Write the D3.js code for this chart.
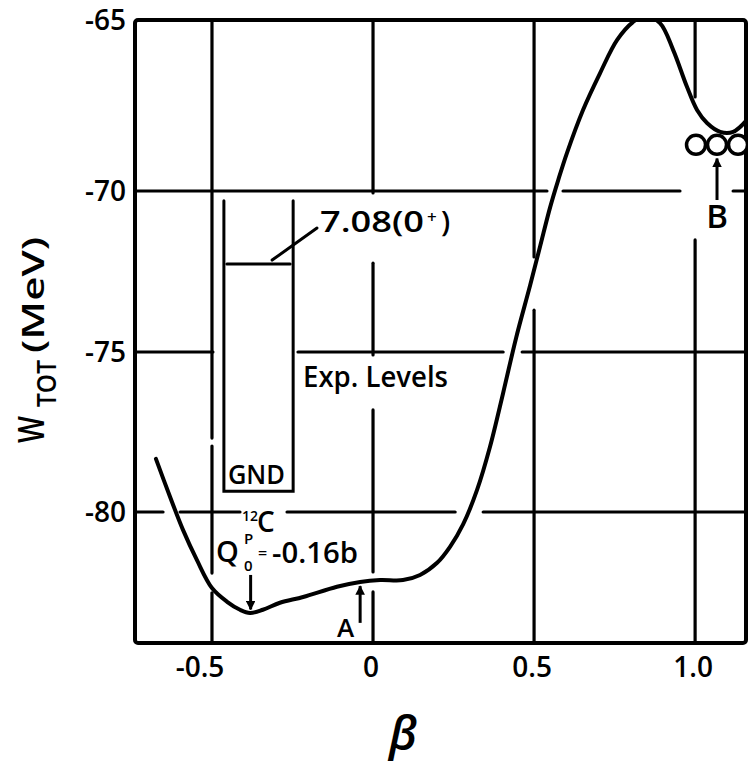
<!DOCTYPE html>
<html>
<head>
<meta charset="utf-8">
<script src="https://cdn.jsdelivr.net/npm/d3@7"></script>
<style>
  body { margin: 0; background: #fff; }
  svg { display: block; }
  text { font-family: "Open Sans", sans-serif; font-weight: 600; fill: #000; }
</style>
</head>
<body>
<svg id="chart" width="750" height="763"></svg>
<script>
// Total energy W_TOT of 12C as a function of the deformation parameter beta
const curveBeta = [-0.674,-0.630,-0.590,-0.547,-0.500,-0.453,-0.413,-0.382,-0.342,-0.289,-0.217,-0.112,-0.040,0.022,0.093,0.146,0.199,0.239,0.280,0.323,0.363,0.404,0.444,0.488,0.519,0.550,0.575,0.602,0.652,0.705,0.758,0.807,0.845,0.891,0.932,0.975,1.006,1.037,1.078,1.118,1.161];
const curveW    = [-78.34,-79.53,-80.56,-81.50,-82.38,-82.81,-83.06,-83.16,-83.06,-82.84,-82.66,-82.34,-82.19,-82.13,-82.13,-81.97,-81.59,-81.09,-80.38,-79.31,-77.97,-76.28,-74.57,-72.92,-71.71,-70.50,-69.68,-68.89,-67.63,-66.55,-65.58,-65.06,-64.88,-65.09,-65.88,-66.96,-67.63,-68.01,-68.27,-68.27,-67.92];

const xTicks = [-0.5, 0, 0.5, 1.0];
const xTickLabels = ["-0.5", "0", "0.5", "1.0"];
const yTicks = [-65, -70, -75, -80];
const yTickLabels = ["-65", "-70", "-75", "-80"];

// experimental levels of 12C
const groundW = -79.35;
const excitation = 7.08;

// marked configurations
const minimumBeta = -0.38;   // oblate minimum, Q0p = -0.16 b
const pointABeta = -0.04;    // spherical point A
const pointBBeta = 1.068;    // linear alpha chain B

const svg = d3.select("#chart");

const x = d3.scaleLinear().domain([-0.739, 1.158]).range([135, 746]);
const y = d3.scaleLinear().domain([-84.1, -80, -75, -70, -65]).range([643, 512, 352, 191, 20]);

const [bMin, bMax] = x.domain();
const wMin = -84.1, wMax = -65;

// grid lines, drawn in pieces so labels and the curve sit in clear gaps
const vGrid = [
  { v: -0.5, parts: [[-77.69, wMax], [-81.91, -77.94], [wMin, -82.53]] },
  { v: 0,    parts: [[-70.06, wMax], [-75.09, -72.24], [-81.875, -76.81], [wMin, -82.5]] },
  { v: 0.5,  parts: [[-72.05, wMax], [wMin, -73.70]] },
  { v: 1.0,  parts: [[-67.25, wMax], [wMin, -71.52]] }
];
const hGrid = [
  { v: -70, parts: [[bMin, 0.540], [0.590, 0.953], [1.118, bMax]] },
  { v: -75, parts: [[bMin, -0.497], [-0.233, 0.404], [0.463, bMax]] },
  { v: -80, parts: [[bMin, -0.652], [-0.599, -0.413], [-0.267, 0.255], [0.342, bMax]] }
];

const grid = svg.append("g").attr("stroke", "#000").attr("stroke-width", 3.2).attr("stroke-linecap", "round");
vGrid.forEach(g => g.parts.forEach(p => {
  grid.append("line").attr("x1", x(g.v)).attr("x2", x(g.v)).attr("y1", y(p[0])).attr("y2", y(p[1]));
}));
hGrid.forEach(g => g.parts.forEach(p => {
  grid.append("line").attr("y1", y(g.v)).attr("y2", y(g.v)).attr("x1", x(p[0])).attr("x2", x(p[1]));
}));

// frame
svg.append("rect")
  .attr("x", x(bMin)).attr("y", y(wMax))
  .attr("width", x(bMax) - x(bMin)).attr("height", y(wMin) - y(wMax))
  .attr("rx", 3)
  .attr("fill", "none").attr("stroke", "#000").attr("stroke-width", 4);

// clip for the curve
svg.append("clipPath").attr("id", "plotClip")
  .append("rect").attr("x", x(bMin)).attr("y", y(wMax))
  .attr("width", x(bMax) - x(bMin)).attr("height", y(wMin) - y(wMax));

const pts = curveBeta.map((b, i) => [b, curveW[i]]);
const line = d3.line().x(d => x(d[0])).y(d => y(d[1])).curve(d3.curveCatmullRom.alpha(0.5));
svg.append("path").datum(pts)
  .attr("clip-path", "url(#plotClip)")
  .attr("d", line)
  .attr("fill", "none").attr("stroke", "#000").attr("stroke-width", 4).attr("stroke-linecap", "round");

// arrow heads
const defs = svg.append("defs");
defs.append("marker").attr("id", "head")
  .attr("viewBox", "0 0 10 10").attr("refX", 9).attr("refY", 5)
  .attr("markerWidth", 3.2).attr("markerHeight", 3.2).attr("markerUnits", "strokeWidth")
  .attr("orient", "auto")
  .append("path").attr("d", "M0,0 L10,5 L0,10 Z").attr("fill", "#000");

function arrow(b, wFrom, wTo) {
  svg.append("line")
    .attr("x1", x(b)).attr("x2", x(b)).attr("y1", y(wFrom)).attr("y2", y(wTo))
    .attr("stroke", "#000").attr("stroke-width", 3).attr("marker-end", "url(#head)");
}
arrow(minimumBeta, -81.97, -83.05);
arrow(pointABeta, -83.47, -82.32);
arrow(pointBBeta, -70.28, -69.05);

// experimental level scheme
const boxL = -0.463, boxR = -0.248, boxTop = -70.3;
const levels = svg.append("g").attr("stroke", "#000").attr("stroke-width", 3).attr("fill", "none").attr("stroke-linecap", "round");
levels.append("path")
  .attr("d", `M${x(boxL)},${y(boxTop)} V${y(groundW)} H${x(boxR)} V${y(boxTop)}`);
const yExc = y(groundW + excitation);
levels.append("line").attr("x1", x(boxL) + 3).attr("x2", x(boxR) - 3).attr("y1", yExc).attr("y2", yExc);
levels.append("line").attr("x1", x(boxR) - 21).attr("y1", yExc - 4).attr("x2", 317).attr("y2", 228);

svg.append("text").attr("x", 320).attr("y", 232).attr("font-size", 29)
  .attr("textLength", 104).attr("lengthAdjust", "spacingAndGlyphs").text("7.08(0");
svg.append("text").attr("x", 427).attr("y", 223).attr("font-size", 17).text("+");
svg.append("text").attr("x", 441).attr("y", 232).attr("font-size", 29).text(")");

svg.append("text").attr("x", 303).attr("y", 387).attr("font-size", 29)
  .attr("textLength", 145).attr("lengthAdjust", "spacingAndGlyphs").text("Exp. Levels");

svg.append("text").attr("x", x(boxL) + 4).attr("y", y(groundW) - 7).attr("font-size", 27)
  .attr("textLength", 57).attr("lengthAdjust", "spacingAndGlyphs").text("GND");

svg.append("text").attr("x", 242).attr("y", 521).attr("font-size", 14).text("12");
svg.append("text").attr("x", 257).attr("y", 532).attr("font-size", 28).text("C");

svg.append("text").attr("x", 216).attr("y", 562).attr("font-size", 29).text("Q");
svg.append("text").attr("x", 244).attr("y", 544).attr("font-size", 15).text("P");
svg.append("text").attr("x", 244).attr("y", 571).attr("font-size", 15).text("0");
svg.append("text").attr("x", 258).attr("y", 559).attr("font-size", 16).text("=");
svg.append("text").attr("x", 272).attr("y", 563).attr("font-size", 29)
  .attr("textLength", 86).attr("lengthAdjust", "spacingAndGlyphs").text("-0.16b");

svg.append("text").attr("x", x(pointABeta) - 6).attr("y", 637).attr("font-size", 26)
  .attr("text-anchor", "end").text("A");

// three alpha clusters in a row at the second minimum
const clusterW = -68.65;
svg.append("g").selectAll("circle").data([-1, 0, 1]).join("circle")
  .attr("cx", k => x(pointBBeta) + k * 21).attr("cy", y(clusterW)).attr("r", 9.5)
  .attr("fill", "#fff").attr("stroke", "#000").attr("stroke-width", 3.5)
  .attr("clip-path", "url(#plotClip)");
svg.append("text").attr("x", x(pointBBeta)).attr("y", 228).attr("font-size", 33)
  .attr("text-anchor", "middle").text("B");

// axis tick labels
svg.append("g").selectAll("text").data(xTicks).join("text")
  .attr("x", (d) => x(d) + (d < 0 ? -12 : -2)).attr("y", 677)
  .attr("text-anchor", "middle").attr("font-size", 28)
  .text((d, i) => xTickLabels[i]);
svg.append("g").selectAll("text").data(yTicks).join("text")
  .attr("x", 126).attr("y", d => y(d)).attr("dy", "0.36em")
  .attr("text-anchor", "end").attr("font-size", 28)
  .text((d, i) => yTickLabels[i]);

// axis titles
svg.append("text").attr("x", 403).attr("y", 750).attr("font-size", 47)
  .attr("text-anchor", "middle").attr("font-style", "italic").attr("font-weight", 400)
  .text("β");

const yt = svg.append("g").attr("transform", "translate(44,443) rotate(-90)");
yt.append("text").attr("x", 0).attr("y", 0).attr("font-size", 36)
  .attr("textLength", 27).attr("lengthAdjust", "spacingAndGlyphs").text("W");
yt.append("text").attr("x", 36).attr("y", 12).attr("font-size", 27)
  .attr("textLength", 47).attr("lengthAdjust", "spacingAndGlyphs").text("TOT");
yt.append("text").attr("x", 90).attr("y", 0).attr("font-size", 30)
  .attr("textLength", 116).attr("lengthAdjust", "spacingAndGlyphs").text("(MeV)");
</script>
</body>
</html>
